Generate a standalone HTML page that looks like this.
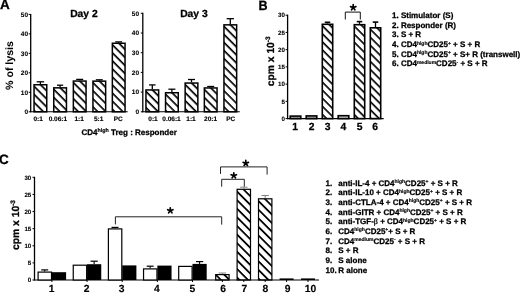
<!DOCTYPE html>
<html><head><meta charset="utf-8"><style>
html,body{margin:0;padding:0;background:#fff;width:520px;height:293px;overflow:hidden}
svg{display:block;text-rendering:geometricPrecision;will-change:transform}
</style></head><body>
<svg width="520" height="293" viewBox="0 0 520 293" font-family='"Liberation Sans", sans-serif' font-weight="bold" fill="#000">
<style>text{stroke:#000;stroke-width:0.27px} .s{stroke-width:0.15px}</style>
<defs>
<pattern id="p1" patternUnits="userSpaceOnUse" width="30" height="5.692" patternTransform="translate(34.80,85.83) rotate(45)"><rect x="0" y="0" width="30" height="1.65" fill="#000"/></pattern>
<pattern id="p2" patternUnits="userSpaceOnUse" width="30" height="5.692" patternTransform="translate(54.50,88.93) rotate(45)"><rect x="0" y="0" width="30" height="1.65" fill="#000"/></pattern>
<pattern id="p3" patternUnits="userSpaceOnUse" width="30" height="5.692" patternTransform="translate(74.10,82.13) rotate(45)"><rect x="0" y="0" width="30" height="1.65" fill="#000"/></pattern>
<pattern id="p4" patternUnits="userSpaceOnUse" width="30" height="5.692" patternTransform="translate(93.70,82.23) rotate(45)"><rect x="0" y="0" width="30" height="1.65" fill="#000"/></pattern>
<pattern id="p5" patternUnits="userSpaceOnUse" width="30" height="5.692" patternTransform="translate(113.10,44.33) rotate(45)"><rect x="0" y="0" width="30" height="1.65" fill="#000"/></pattern>
<pattern id="p6" patternUnits="userSpaceOnUse" width="30" height="5.692" patternTransform="translate(146.70,91.03) rotate(45)"><rect x="0" y="0" width="30" height="1.65" fill="#000"/></pattern>
<pattern id="p7" patternUnits="userSpaceOnUse" width="30" height="5.692" patternTransform="translate(166.30,93.83) rotate(45)"><rect x="0" y="0" width="30" height="1.65" fill="#000"/></pattern>
<pattern id="p8" patternUnits="userSpaceOnUse" width="30" height="5.692" patternTransform="translate(185.90,84.13) rotate(45)"><rect x="0" y="0" width="30" height="1.65" fill="#000"/></pattern>
<pattern id="p9" patternUnits="userSpaceOnUse" width="30" height="5.692" patternTransform="translate(205.10,89.03) rotate(45)"><rect x="0" y="0" width="30" height="1.65" fill="#000"/></pattern>
<pattern id="p10" patternUnits="userSpaceOnUse" width="30" height="5.692" patternTransform="translate(224.70,25.93) rotate(45)"><rect x="0" y="0" width="30" height="1.65" fill="#000"/></pattern>
<pattern id="p11" patternUnits="userSpaceOnUse" width="30" height="5.692" patternTransform="translate(323.10,25.33) rotate(45)"><rect x="0" y="0" width="30" height="1.65" fill="#000"/></pattern>
<pattern id="p12" patternUnits="userSpaceOnUse" width="30" height="5.692" patternTransform="translate(355.10,25.73) rotate(45)"><rect x="0" y="0" width="30" height="1.65" fill="#000"/></pattern>
<pattern id="p13" patternUnits="userSpaceOnUse" width="30" height="5.692" patternTransform="translate(371.10,28.83) rotate(45)"><rect x="0" y="0" width="30" height="1.65" fill="#000"/></pattern>
<pattern id="p14" patternUnits="userSpaceOnUse" width="30" height="6.081" patternTransform="translate(216.30,274.03) rotate(45)"><rect x="0" y="0" width="30" height="1.8" fill="#000"/></pattern>
<pattern id="p15" patternUnits="userSpaceOnUse" width="30" height="6.081" patternTransform="translate(237.70,190.93) rotate(45)"><rect x="0" y="0" width="30" height="1.8" fill="#000"/></pattern>
<pattern id="p16" patternUnits="userSpaceOnUse" width="30" height="6.081" patternTransform="translate(259.10,200.43) rotate(45)"><rect x="0" y="0" width="30" height="1.8" fill="#000"/></pattern>
</defs>
<rect width="520" height="293" fill="#fff"/>
<text x="0" y="9.3" font-size="13.5" text-anchor="start" >A</text>
<line x1="30.7" y1="13.9" x2="30.7" y2="112.3" stroke="#000" stroke-width="1.3"/>
<line x1="28.7" y1="111.8" x2="30.7" y2="111.8" stroke="#000" stroke-width="1"/>
<text x="28.099999999999998" y="114.14" font-size="6.5" text-anchor="end" style="stroke-width:0.1px">0</text>
<line x1="28.7" y1="92.32" x2="30.7" y2="92.32" stroke="#000" stroke-width="1"/>
<text x="28.099999999999998" y="94.66" font-size="6.5" text-anchor="end" style="stroke-width:0.1px">10</text>
<line x1="28.7" y1="72.84" x2="30.7" y2="72.84" stroke="#000" stroke-width="1"/>
<text x="28.099999999999998" y="75.18" font-size="6.5" text-anchor="end" style="stroke-width:0.1px">20</text>
<line x1="28.7" y1="53.36000000000001" x2="30.7" y2="53.36000000000001" stroke="#000" stroke-width="1"/>
<text x="28.099999999999998" y="55.7" font-size="6.5" text-anchor="end" style="stroke-width:0.1px">30</text>
<line x1="28.7" y1="33.88000000000001" x2="30.7" y2="33.88000000000001" stroke="#000" stroke-width="1"/>
<text x="28.099999999999998" y="36.22000000000001" font-size="6.5" text-anchor="end" style="stroke-width:0.1px">40</text>
<line x1="28.7" y1="14.400000000000006" x2="30.7" y2="14.400000000000006" stroke="#000" stroke-width="1"/>
<text x="28.099999999999998" y="16.740000000000006" font-size="6.5" text-anchor="end" style="stroke-width:0.1px">50</text>
<line x1="30.2" y1="111.8" x2="127.7" y2="111.8" stroke="#000" stroke-width="1.1"/>
<rect x="34.05" y="84.75" width="12.70" height="27.05" fill="url(#p1)" stroke="#000" stroke-width="1.5"/>
<line x1="40.4" y1="81.8" x2="40.4" y2="84.0" stroke="#000" stroke-width="1.3"/>
<line x1="36.65" y1="81.8" x2="44.15" y2="81.8" stroke="#000" stroke-width="1.3"/>
<rect x="53.75" y="87.85" width="12.70" height="23.95" fill="url(#p2)" stroke="#000" stroke-width="1.5"/>
<line x1="60.1" y1="85.2" x2="60.1" y2="87.1" stroke="#000" stroke-width="1.3"/>
<line x1="57.0" y1="85.2" x2="63.2" y2="85.2" stroke="#000" stroke-width="1.3"/>
<rect x="73.35" y="81.05" width="12.70" height="30.75" fill="url(#p3)" stroke="#000" stroke-width="1.5"/>
<line x1="79.69999999999999" y1="79.4" x2="79.69999999999999" y2="80.3" stroke="#000" stroke-width="1.3"/>
<line x1="76.19999999999999" y1="79.4" x2="83.19999999999999" y2="79.4" stroke="#000" stroke-width="1.3"/>
<rect x="92.95" y="81.15" width="12.70" height="30.65" fill="url(#p4)" stroke="#000" stroke-width="1.5"/>
<line x1="99.3" y1="79.8" x2="99.3" y2="80.4" stroke="#000" stroke-width="1.3"/>
<line x1="95.8" y1="79.8" x2="102.8" y2="79.8" stroke="#000" stroke-width="1.3"/>
<rect x="112.35" y="43.25" width="12.70" height="68.55" fill="url(#p5)" stroke="#000" stroke-width="1.5"/>
<line x1="118.69999999999999" y1="41.9" x2="118.69999999999999" y2="42.5" stroke="#000" stroke-width="1.3"/>
<line x1="115.19999999999999" y1="41.9" x2="122.19999999999999" y2="41.9" stroke="#000" stroke-width="1.3"/>
<text x="38.2" y="120.8" font-size="6.5" text-anchor="middle" style="stroke-width:0.15px">0:1</text>
<text x="57.9" y="120.8" font-size="6.5" text-anchor="middle" style="stroke-width:0.15px">0.06:1</text>
<text x="79.2" y="120.8" font-size="6.5" text-anchor="middle" style="stroke-width:0.15px">1:1</text>
<text x="98.7" y="120.8" font-size="6.5" text-anchor="middle" style="stroke-width:0.15px">5:1</text>
<text x="118.2" y="120.8" font-size="6.5" text-anchor="middle" style="stroke-width:0.15px">PC</text>
<text x="70.2" y="16.9" font-size="10.3" text-anchor="start" >Day 2</text>
<line x1="142.8" y1="12.8" x2="142.8" y2="112.3" stroke="#000" stroke-width="1.3"/>
<line x1="140.8" y1="111.8" x2="142.8" y2="111.8" stroke="#000" stroke-width="1"/>
<text x="139.0" y="114.14" font-size="6.5" text-anchor="end" style="stroke-width:0.1px">0</text>
<line x1="140.8" y1="92.1" x2="142.8" y2="92.1" stroke="#000" stroke-width="1"/>
<text x="139.0" y="94.44" font-size="6.5" text-anchor="end" style="stroke-width:0.1px">10</text>
<line x1="140.8" y1="72.4" x2="142.8" y2="72.4" stroke="#000" stroke-width="1"/>
<text x="139.0" y="74.74000000000001" font-size="6.5" text-anchor="end" style="stroke-width:0.1px">20</text>
<line x1="140.8" y1="52.699999999999996" x2="142.8" y2="52.699999999999996" stroke="#000" stroke-width="1"/>
<text x="139.0" y="55.03999999999999" font-size="6.5" text-anchor="end" style="stroke-width:0.1px">30</text>
<line x1="140.8" y1="33.0" x2="142.8" y2="33.0" stroke="#000" stroke-width="1"/>
<text x="139.0" y="35.34" font-size="6.5" text-anchor="end" style="stroke-width:0.1px">40</text>
<line x1="140.8" y1="13.299999999999997" x2="142.8" y2="13.299999999999997" stroke="#000" stroke-width="1"/>
<text x="139.0" y="15.639999999999997" font-size="6.5" text-anchor="end" style="stroke-width:0.1px">50</text>
<line x1="142.3" y1="111.8" x2="239.8" y2="111.8" stroke="#000" stroke-width="1.1"/>
<rect x="145.95" y="89.95" width="12.70" height="21.85" fill="url(#p6)" stroke="#000" stroke-width="1.5"/>
<line x1="152.29999999999998" y1="84.9" x2="152.29999999999998" y2="89.2" stroke="#000" stroke-width="1.3"/>
<line x1="149.04999999999998" y1="84.9" x2="155.54999999999998" y2="84.9" stroke="#000" stroke-width="1.3"/>
<rect x="165.55" y="92.75" width="12.70" height="19.05" fill="url(#p7)" stroke="#000" stroke-width="1.5"/>
<line x1="171.9" y1="89.2" x2="171.9" y2="92.0" stroke="#000" stroke-width="1.3"/>
<line x1="168.4" y1="89.2" x2="175.4" y2="89.2" stroke="#000" stroke-width="1.3"/>
<rect x="185.15" y="83.05" width="12.70" height="28.75" fill="url(#p8)" stroke="#000" stroke-width="1.5"/>
<line x1="191.5" y1="79.5" x2="191.5" y2="82.3" stroke="#000" stroke-width="1.3"/>
<line x1="188.0" y1="79.5" x2="195.0" y2="79.5" stroke="#000" stroke-width="1.3"/>
<rect x="204.35" y="87.95" width="12.70" height="23.85" fill="url(#p9)" stroke="#000" stroke-width="1.5"/>
<line x1="210.7" y1="86.5" x2="210.7" y2="87.2" stroke="#000" stroke-width="1.3"/>
<line x1="207.2" y1="86.5" x2="214.2" y2="86.5" stroke="#000" stroke-width="1.3"/>
<rect x="223.95" y="24.85" width="12.70" height="86.95" fill="url(#p10)" stroke="#000" stroke-width="1.5"/>
<line x1="230.29999999999998" y1="18.7" x2="230.29999999999998" y2="24.1" stroke="#000" stroke-width="1.3"/>
<line x1="226.64999999999998" y1="18.7" x2="233.95" y2="18.7" stroke="#000" stroke-width="1.3"/>
<text x="153" y="120.8" font-size="6.5" text-anchor="middle" style="stroke-width:0.15px">0:1</text>
<text x="171.5" y="120.8" font-size="6.5" text-anchor="middle" style="stroke-width:0.15px">0.06:1</text>
<text x="191" y="120.8" font-size="6.5" text-anchor="middle" style="stroke-width:0.15px">1:1</text>
<text x="210.6" y="120.8" font-size="6.5" text-anchor="middle" style="stroke-width:0.15px">20:1</text>
<text x="230.8" y="120.8" font-size="6.5" text-anchor="middle" style="stroke-width:0.15px">PC</text>
<text x="180.2" y="16.6" font-size="10.3" text-anchor="start" >Day 3</text>
<text transform="translate(13.3,65.5) rotate(-90)" font-size="10.6" text-anchor="middle" style="stroke-width:0.05px">% of lysis</text>
<text x="81.4" y="135" font-size="8">CD4<tspan class="s" font-size="5.4" dy="-2.8">high</tspan><tspan dy="2.8"> Treg : Responder</tspan></text>
<text x="258.5" y="9.5" font-size="13.5" text-anchor="start" transform="translate(258.5,0) scale(0.93,1) translate(-258.5,0)">B</text>
<line x1="287.6" y1="14.7" x2="287.6" y2="119.1" stroke="#000" stroke-width="1.3"/>
<line x1="285.6" y1="118.6" x2="287.6" y2="118.6" stroke="#000" stroke-width="1"/>
<text x="285.0" y="120.832" font-size="6.2" text-anchor="end" style="stroke-width:0.1px">0</text>
<line x1="285.6" y1="101.36666666666666" x2="287.6" y2="101.36666666666666" stroke="#000" stroke-width="1"/>
<text x="285.0" y="103.59866666666666" font-size="6.2" text-anchor="end" style="stroke-width:0.1px">5</text>
<line x1="285.6" y1="84.13333333333333" x2="287.6" y2="84.13333333333333" stroke="#000" stroke-width="1"/>
<text x="285.0" y="86.36533333333333" font-size="6.2" text-anchor="end" style="stroke-width:0.1px">10</text>
<line x1="285.6" y1="66.9" x2="287.6" y2="66.9" stroke="#000" stroke-width="1"/>
<text x="285.0" y="69.132" font-size="6.2" text-anchor="end" style="stroke-width:0.1px">15</text>
<line x1="285.6" y1="49.66666666666667" x2="287.6" y2="49.66666666666667" stroke="#000" stroke-width="1"/>
<text x="285.0" y="51.89866666666667" font-size="6.2" text-anchor="end" style="stroke-width:0.1px">20</text>
<line x1="285.6" y1="32.43333333333334" x2="287.6" y2="32.43333333333334" stroke="#000" stroke-width="1"/>
<text x="285.0" y="34.665333333333336" font-size="6.2" text-anchor="end" style="stroke-width:0.1px">25</text>
<line x1="285.6" y1="15.200000000000003" x2="287.6" y2="15.200000000000003" stroke="#000" stroke-width="1"/>
<text x="285.0" y="17.432000000000002" font-size="6.2" text-anchor="end" style="stroke-width:0.1px">30</text>
<line x1="287.1" y1="118.6" x2="383.7" y2="118.6" stroke="#000" stroke-width="1.1"/>
<rect x="290.20" y="116.10" width="10.60" height="2.50" fill="#aaa" stroke="#000" stroke-width="1.6"/>
<text x="295.2" y="130.3" font-size="10.3" text-anchor="middle" >1</text>
<rect x="306.20" y="115.90" width="10.60" height="2.70" fill="#aaa" stroke="#000" stroke-width="1.6"/>
<text x="311.6" y="130.3" font-size="10.3" text-anchor="middle" >2</text>
<rect x="322.30" y="24.30" width="10.40" height="94.30" fill="url(#p11)" stroke="#000" stroke-width="1.6"/>
<line x1="327.5" y1="22.3" x2="327.5" y2="23.5" stroke="#000" stroke-width="1.3"/>
<line x1="324.75" y1="22.3" x2="330.25" y2="22.3" stroke="#000" stroke-width="1.6"/>
<text x="327.7" y="130.3" font-size="10.3" text-anchor="middle" >3</text>
<rect x="338.20" y="115.70" width="10.60" height="2.90" fill="#ccc" stroke="#000" stroke-width="1.6"/>
<text x="343.3" y="130.3" font-size="10.3" text-anchor="middle" >4</text>
<rect x="354.30" y="24.70" width="10.40" height="93.90" fill="url(#p12)" stroke="#000" stroke-width="1.6"/>
<line x1="359.5" y1="21.6" x2="359.5" y2="23.9" stroke="#000" stroke-width="1.3"/>
<line x1="356.75" y1="21.6" x2="362.25" y2="21.6" stroke="#000" stroke-width="1.6"/>
<text x="359.6" y="130.3" font-size="10.3" text-anchor="middle" >5</text>
<rect x="370.30" y="27.80" width="10.40" height="90.80" fill="url(#p13)" stroke="#000" stroke-width="1.6"/>
<line x1="375.5" y1="22.1" x2="375.5" y2="27.0" stroke="#000" stroke-width="1.3"/>
<line x1="372.75" y1="22.1" x2="378.25" y2="22.1" stroke="#000" stroke-width="1.6"/>
<text x="375.1" y="130.3" font-size="10.3" text-anchor="middle" >6</text>
<text transform="translate(274.2,61.3) rotate(-90)" font-size="10.3" text-anchor="middle">cpm x 10<tspan font-size="6.5" dy="-4">-3</tspan></text>
<path d="M345.3,19.5 V12.1 H360.3 V19.5" fill="none" stroke="#111" stroke-width="1"/>
<path d="M353.20,7.50L353.20,4.70M353.20,7.50L355.86,6.63M353.20,7.50L354.85,9.77M353.20,7.50L351.55,9.77M353.20,7.50L350.54,6.63" stroke="#000" stroke-width="1.7" stroke-linecap="round" fill="none"/>
<text x="392" y="17.85" font-size="8">1. Stimulator (S)</text>
<text x="392" y="27.57" font-size="8">2. Responder (R)</text>
<text x="392" y="37.29" font-size="8">3. S + R</text>
<text x="392" y="47.01" font-size="8">4. CD4<tspan class="s" font-size="5" dy="-2.5">high</tspan><tspan dy="2.5">CD25</tspan><tspan class="s" font-size="5" dy="-2.5">+</tspan><tspan dy="2.5"> + S + R</tspan></text>
<text x="392" y="56.73" font-size="8">5. CD4<tspan class="s" font-size="5" dy="-2.5">high</tspan><tspan dy="2.5">CD25</tspan><tspan class="s" font-size="5" dy="-2.5">+</tspan><tspan dy="2.5"> + S+ R (transwell)</tspan></text>
<text x="392" y="66.45" font-size="8">6. CD4<tspan class="s" font-size="5" dy="-2.5">medium</tspan><tspan dy="2.5">CD25</tspan><tspan class="s" font-size="5" dy="-2.5">-</tspan><tspan dy="2.5"> + S + R</tspan></text>
<text x="-1.0" y="163.7" font-size="13.5" text-anchor="start" >C</text>
<line x1="34.5" y1="176.8" x2="34.5" y2="280.5" stroke="#000" stroke-width="1.3"/>
<line x1="32.5" y1="280.0" x2="34.5" y2="280.0" stroke="#000" stroke-width="1"/>
<text x="31.3" y="282.232" font-size="6.2" text-anchor="end" style="stroke-width:0.1px">0</text>
<line x1="32.5" y1="262.8833333333333" x2="34.5" y2="262.8833333333333" stroke="#000" stroke-width="1"/>
<text x="31.3" y="265.11533333333335" font-size="6.2" text-anchor="end" style="stroke-width:0.1px">5</text>
<line x1="32.5" y1="245.76666666666668" x2="34.5" y2="245.76666666666668" stroke="#000" stroke-width="1"/>
<text x="31.3" y="247.99866666666668" font-size="6.2" text-anchor="end" style="stroke-width:0.1px">10</text>
<line x1="32.5" y1="228.65" x2="34.5" y2="228.65" stroke="#000" stroke-width="1"/>
<text x="31.3" y="230.882" font-size="6.2" text-anchor="end" style="stroke-width:0.1px">15</text>
<line x1="32.5" y1="211.53333333333336" x2="34.5" y2="211.53333333333336" stroke="#000" stroke-width="1"/>
<text x="31.3" y="213.76533333333336" font-size="6.2" text-anchor="end" style="stroke-width:0.1px">20</text>
<line x1="32.5" y1="194.41666666666669" x2="34.5" y2="194.41666666666669" stroke="#000" stroke-width="1"/>
<text x="31.3" y="196.64866666666668" font-size="6.2" text-anchor="end" style="stroke-width:0.1px">25</text>
<line x1="32.5" y1="177.3" x2="34.5" y2="177.3" stroke="#000" stroke-width="1"/>
<text x="31.3" y="179.532" font-size="6.2" text-anchor="end" style="stroke-width:0.1px">30</text>
<line x1="34.0" y1="280.0" x2="319" y2="280.0" stroke="#000" stroke-width="1.1"/>
<rect x="38.10" y="272.10" width="13.40" height="7.90" fill="#fff" stroke="#000" stroke-width="1.2"/>
<line x1="44.7" y1="269.9" x2="44.7" y2="271.5" stroke="#000" stroke-width="1.1"/>
<line x1="41.2" y1="269.9" x2="48.2" y2="269.9" stroke="#000" stroke-width="1.2"/>
<rect x="51.90" y="272.20" width="14.2" height="7.80" fill="#000"/>
<line x1="51.9" y1="280.0" x2="51.9" y2="282.0" stroke="#000" stroke-width="1"/>
<rect x="73.25" y="265.20" width="13.40" height="14.80" fill="#fff" stroke="#000" stroke-width="1.2"/>
<rect x="87.05" y="264.20" width="14.2" height="15.80" fill="#000"/>
<line x1="94.15" y1="261.2" x2="94.15" y2="264.2" stroke="#000" stroke-width="1.1"/>
<line x1="90.55000000000001" y1="261.2" x2="97.75" y2="261.2" stroke="#000" stroke-width="1.2"/>
<line x1="87.05000000000001" y1="280.0" x2="87.05000000000001" y2="282.0" stroke="#000" stroke-width="1"/>
<rect x="108.40" y="228.90" width="13.40" height="51.10" fill="#fff" stroke="#000" stroke-width="1.2"/>
<line x1="115.0" y1="227.4" x2="115.0" y2="228.3" stroke="#000" stroke-width="1.1"/>
<line x1="111.5" y1="227.4" x2="118.5" y2="227.4" stroke="#000" stroke-width="1.2"/>
<rect x="122.20" y="265.40" width="14.2" height="14.60" fill="#000"/>
<line x1="122.2" y1="280.0" x2="122.2" y2="282.0" stroke="#000" stroke-width="1"/>
<rect x="143.55" y="268.90" width="13.40" height="11.10" fill="#fff" stroke="#000" stroke-width="1.2"/>
<line x1="150.14999999999998" y1="266.2" x2="150.14999999999998" y2="268.3" stroke="#000" stroke-width="1.1"/>
<line x1="146.64999999999998" y1="266.2" x2="153.64999999999998" y2="266.2" stroke="#000" stroke-width="1.2"/>
<rect x="157.35" y="265.60" width="14.2" height="14.40" fill="#000"/>
<line x1="157.35" y1="280.0" x2="157.35" y2="282.0" stroke="#000" stroke-width="1"/>
<rect x="178.70" y="266.40" width="13.40" height="13.60" fill="#fff" stroke="#000" stroke-width="1.2"/>
<rect x="192.50" y="263.90" width="14.2" height="16.10" fill="#000"/>
<line x1="199.6" y1="261.6" x2="199.6" y2="263.9" stroke="#000" stroke-width="1.1"/>
<line x1="196.0" y1="261.6" x2="203.2" y2="261.6" stroke="#000" stroke-width="1.2"/>
<line x1="192.5" y1="280.0" x2="192.5" y2="282.0" stroke="#000" stroke-width="1"/>
<rect x="215.70" y="274.60" width="13.40" height="5.40" fill="url(#p14)" stroke="#000" stroke-width="1.2"/>
<line x1="222.4" y1="273.0" x2="222.4" y2="274.0" stroke="#777" stroke-width="0.9"/>
<line x1="218.65" y1="273.0" x2="226.15" y2="273.0" stroke="#777" stroke-width="0.9"/>
<line x1="222.4" y1="280.0" x2="222.4" y2="282.0" stroke="#000" stroke-width="1"/>
<rect x="237.10" y="189.30" width="13.40" height="90.70" fill="url(#p15)" stroke="#000" stroke-width="1.2"/>
<line x1="243.8" y1="187.2" x2="243.8" y2="188.7" stroke="#777" stroke-width="0.9"/>
<line x1="240.05" y1="187.2" x2="247.55" y2="187.2" stroke="#777" stroke-width="0.9"/>
<line x1="243.8" y1="280.0" x2="243.8" y2="282.0" stroke="#000" stroke-width="1"/>
<rect x="258.50" y="198.80" width="13.40" height="81.20" fill="url(#p16)" stroke="#000" stroke-width="1.2"/>
<line x1="265.2" y1="195.5" x2="265.2" y2="198.2" stroke="#777" stroke-width="0.9"/>
<line x1="261.45" y1="195.5" x2="268.95" y2="195.5" stroke="#777" stroke-width="0.9"/>
<line x1="265.2" y1="280.0" x2="265.2" y2="282.0" stroke="#000" stroke-width="1"/>
<line x1="279.6" y1="279.2" x2="293.6" y2="279.2" stroke="#000" stroke-width="1.6"/>
<line x1="286.6" y1="280.0" x2="286.6" y2="282.0" stroke="#000" stroke-width="1"/>
<line x1="301.0" y1="279.2" x2="315.0" y2="279.2" stroke="#000" stroke-width="1.6"/>
<line x1="308.0" y1="280.0" x2="308.0" y2="282.0" stroke="#000" stroke-width="1"/>
<text x="51.5" y="292.3" font-size="10.3" text-anchor="middle" style="stroke-width:0.15px">1</text>
<text x="86.7" y="292.3" font-size="10.3" text-anchor="middle" style="stroke-width:0.15px">2</text>
<text x="121.6" y="292.3" font-size="10.3" text-anchor="middle" style="stroke-width:0.15px">3</text>
<text x="156.8" y="292.3" font-size="10.3" text-anchor="middle" style="stroke-width:0.15px">4</text>
<text x="192.3" y="292.3" font-size="10.3" text-anchor="middle" style="stroke-width:0.15px">5</text>
<text x="223" y="292.3" font-size="10.3" text-anchor="middle" style="stroke-width:0.15px">6</text>
<text x="244.3" y="292.3" font-size="10.3" text-anchor="middle" style="stroke-width:0.15px">7</text>
<text x="265.3" y="292.3" font-size="10.3" text-anchor="middle" style="stroke-width:0.15px">8</text>
<text x="287.5" y="292.3" font-size="10.3" text-anchor="middle" style="stroke-width:0.15px">9</text>
<text x="310.4" y="292.3" font-size="10.3" text-anchor="middle" style="stroke-width:0.15px">10</text>
<text transform="translate(19,225) rotate(-90)" font-size="10.3" text-anchor="middle">cpm x 10<tspan font-size="6.5" dy="-4">-3</tspan></text>
<path d="M115.4,224.4 V216.8 H221.7 V224.6" fill="none" stroke="#222" stroke-width="1"/>
<path d="M170.30,210.60L170.30,207.80M170.30,210.60L172.96,209.73M170.30,210.60L171.95,212.87M170.30,210.60L168.65,212.87M170.30,210.60L167.64,209.73" stroke="#000" stroke-width="1.7" stroke-linecap="round" fill="none"/>
<path d="M220.5,173.9 V166.9 H267.1 V174.6" fill="none" stroke="#222" stroke-width="1"/>
<path d="M245.80,163.20L245.80,160.40M245.80,163.20L248.46,162.33M245.80,163.20L247.45,165.47M245.80,163.20L244.15,165.47M245.80,163.20L243.14,162.33" stroke="#000" stroke-width="1.7" stroke-linecap="round" fill="none"/>
<path d="M221.7,186.7 V179.3 H244.3 V186.7" fill="none" stroke="#222" stroke-width="1"/>
<path d="M233.80,175.60L233.80,172.80M233.80,175.60L236.46,174.73M233.80,175.60L235.45,177.87M233.80,175.60L232.15,177.87M233.80,175.60L231.14,174.73" stroke="#000" stroke-width="1.7" stroke-linecap="round" fill="none"/>
<text x="325.5" y="185.55" font-size="8">1.</text>
<text x="338.3" y="185.55" font-size="8">anti-IL-4 + CD4<tspan class="s" font-size="5" dy="-2.5">high</tspan><tspan dy="2.5">CD25</tspan><tspan class="s" font-size="5" dy="-2.5">+</tspan><tspan dy="2.5"> + S + R</tspan></text>
<text x="325.5" y="195.22" font-size="8">2.</text>
<text x="338.3" y="195.22" font-size="8">anti-IL-10 + CD4<tspan class="s" font-size="5" dy="-2.5">high</tspan><tspan dy="2.5">CD25</tspan><tspan class="s" font-size="5" dy="-2.5">+</tspan><tspan dy="2.5"> + S + R</tspan></text>
<text x="325.5" y="204.88" font-size="8">3.</text>
<text x="338.3" y="204.88" font-size="8">anti-CTLA-4 + CD4<tspan class="s" font-size="5" dy="-2.5">high</tspan><tspan dy="2.5">CD25</tspan><tspan class="s" font-size="5" dy="-2.5">+</tspan><tspan dy="2.5"> + S + R</tspan></text>
<text x="325.5" y="214.55" font-size="8">4.</text>
<text x="338.3" y="214.55" font-size="8">anti-GITR + CD4<tspan class="s" font-size="5" dy="-2.5">high</tspan><tspan dy="2.5">CD25</tspan><tspan class="s" font-size="5" dy="-2.5">+</tspan><tspan dy="2.5"> + S + R</tspan></text>
<text x="325.5" y="224.22" font-size="8">5.</text>
<text x="338.3" y="224.22" font-size="8">anti-TGF-<tspan font-family="Liberation Serif" font-weight="normal">β</tspan> + CD4<tspan class="s" font-size="5" dy="-2.5">high</tspan><tspan dy="2.5">CD25</tspan><tspan class="s" font-size="5" dy="-2.5">+</tspan><tspan dy="2.5"> + S + R</tspan></text>
<text x="325.5" y="233.89" font-size="8">6.</text>
<text x="338.3" y="233.89" font-size="8">CD4<tspan class="s" font-size="5" dy="-2.5">high</tspan><tspan dy="2.5">CD25</tspan><tspan class="s" font-size="5" dy="-2.5">+</tspan><tspan dy="2.5">+ S + R</tspan></text>
<text x="325.5" y="243.55" font-size="8">7.</text>
<text x="338.3" y="243.55" font-size="8">CD4<tspan class="s" font-size="5" dy="-2.5">medium</tspan><tspan dy="2.5">CD25</tspan><tspan class="s" font-size="5" dy="-2.5">-</tspan><tspan dy="2.5"> + S + R</tspan></text>
<text x="325.5" y="253.22" font-size="8">8.</text>
<text x="338.3" y="253.22" font-size="8">S + R</text>
<text x="325.5" y="262.89" font-size="8">9.</text>
<text x="338.3" y="262.89" font-size="8">S alone</text>
<text x="325.5" y="272.55" font-size="8">10.</text>
<text x="338.3" y="272.55" font-size="8">R alone</text>
</svg>
</body></html>
